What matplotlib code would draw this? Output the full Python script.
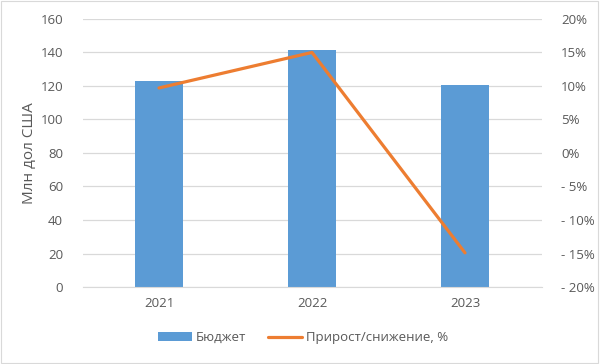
import matplotlib.pyplot as plt
from matplotlib.ticker import FuncFormatter

years = ["2021", "2022", "2023"]
budget = [123.2, 141.4, 120.3]
growth = [9.7, 15.0, -14.9]

plt.rcParams['font.family'] = ['Open Sans', 'DejaVu Sans']
txt = "#595959"

fig = plt.figure(figsize=(6, 3.64), dpi=100)
ax = fig.add_axes([0.1375, 0.2115, 0.765, 0.7365])
ax2 = ax.twinx()

x = range(len(years))
bars = ax.bar(x, budget, width=0.31, color="#5B9BD5", label="Бюджет", zorder=2)
ln, = ax2.plot(x, growth, color="#ED7D31", lw=2.3, label="Прирост/снижение, %",
               solid_capstyle="round", zorder=3)

ax.set_xlim(-0.5, 2.5)
ax.set_ylim(0, 160)
ax.set_yticks(range(0, 161, 20))
ax2.set_ylim(-20, 20)
ax2.set_yticks(range(-20, 21, 5))
ax2.yaxis.set_major_formatter(FuncFormatter(
    lambda v, p: f"{int(v)}%" if v >= 0 else f"- {int(abs(v))}%"))
ax.set_xticks(list(x))
ax.set_xticklabels(years)

ax.grid(axis="y", color="#d9d9d9", lw=0.9, zorder=0)
ax.set_axisbelow(True)
for a in (ax, ax2):
    for s in a.spines.values():
        s.set_visible(False)
    a.tick_params(length=0, colors=txt, labelsize=9.5)
ax.spines["bottom"].set_visible(True)
ax.spines["bottom"].set_color("#d9d9d9")
ax.tick_params(axis="y", pad=14)
ax2.tick_params(axis="y", pad=14)
ax.tick_params(axis="x", pad=7)

ax.set_ylabel("Млн дол США", color=txt, fontsize=11)
ax.yaxis.set_label_coords(-0.099, 0.5)
ax.set_zorder(ax2.get_zorder() - 1)
ax2.patch.set_visible(False)

fig.legend([bars, ln], ["Бюджет", "Прирост/снижение, %"], loc="center",
           bbox_to_anchor=(0.505, 0.072), ncol=2, frameon=False, fontsize=9.5,
           labelcolor=txt, handlelength=2.6, columnspacing=1.6, handletextpad=0.3)

fig.patches.append(plt.Rectangle((0.002, 0.003), 0.995, 0.993, transform=fig.transFigure,
                                 fill=False, edgecolor="#d9d9d9", lw=0.8))
fig.savefig("out.png", dpi=100)
